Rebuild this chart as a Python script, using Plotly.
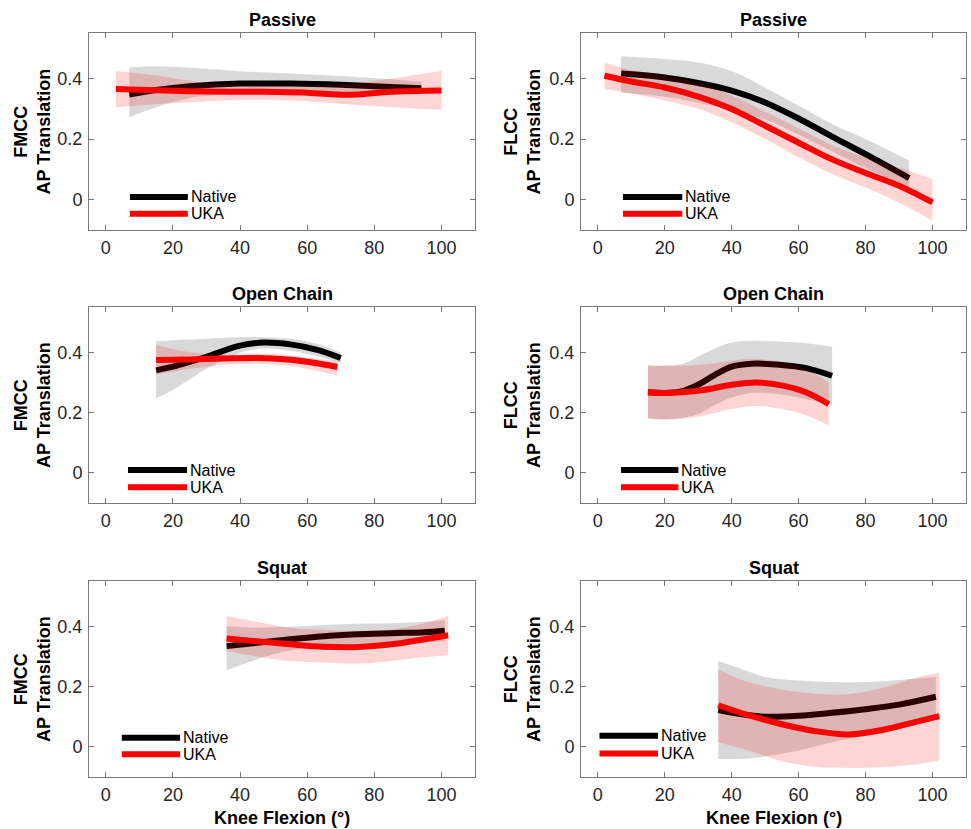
import plotly.graph_objects as go

# ---------------- data ----------------
panel_titles = ["Passive", "Passive", "Open Chain", "Open Chain", "Squat", "Squat"]
panel_ylabels = ["FMCC", "FLCC", "FMCC", "FLCC", "FMCC", "FLCC"]
x_ticks = [0, 20, 40, 60, 80, 100]
y_ticks = [0, 0.2, 0.4]
y_ticktext = ["0", "0.2", "0.4"]
series_names = ["Native", "UKA"]

# Panel 1: FMCC Passive
p1_native_x = [7, 15, 25, 40, 55, 70, 85, 94]
p1_native_mean = [0.347, 0.362, 0.374, 0.383, 0.383, 0.379, 0.372, 0.368]
p1_native_up = [0.436, 0.440, 0.435, 0.424, 0.416, 0.408, 0.397, 0.388]
p1_native_lo = [0.272, 0.305, 0.335, 0.350, 0.355, 0.355, 0.352, 0.350]
p1_uka_x = [3, 15, 30, 45, 60, 72, 85, 100]
p1_uka_mean = [0.365, 0.361, 0.357, 0.356, 0.353, 0.346, 0.356, 0.360]
p1_uka_up = [0.425, 0.410, 0.385, 0.378, 0.378, 0.382, 0.400, 0.425]
p1_uka_lo = [0.305, 0.315, 0.325, 0.330, 0.325, 0.315, 0.305, 0.297]

# Panel 2: FLCC Passive
p2_native_x = [7, 20, 30, 40, 50, 60, 70, 80, 93]
p2_native_mean = [0.416, 0.403, 0.385, 0.360, 0.321, 0.268, 0.208, 0.150, 0.071]
p2_native_up = [0.473, 0.464, 0.453, 0.425, 0.370, 0.310, 0.250, 0.200, 0.129]
p2_native_lo = [0.354, 0.340, 0.320, 0.295, 0.265, 0.215, 0.160, 0.105, 0.040]
p2_uka_x = [2, 10, 20, 30, 40, 50, 60, 70, 80, 90, 100]
p2_uka_mean = [0.409, 0.390, 0.370, 0.340, 0.299, 0.244, 0.188, 0.133, 0.088, 0.046, -0.009]
p2_uka_up = [0.453, 0.428, 0.410, 0.385, 0.345, 0.290, 0.235, 0.180, 0.140, 0.105, 0.068]
p2_uka_lo = [0.365, 0.350, 0.327, 0.300, 0.255, 0.200, 0.140, 0.085, 0.040, -0.010, -0.069]

# Panel 3: FMCC Open Chain
p3_native_x = [15, 20, 25, 30, 40, 47, 55, 63, 70]
p3_native_mean = [0.340, 0.352, 0.368, 0.385, 0.422, 0.432, 0.426, 0.408, 0.381]
p3_native_up = [0.436, 0.440, 0.442, 0.445, 0.450, 0.450, 0.445, 0.428, 0.398]
p3_native_lo = [0.247, 0.275, 0.310, 0.345, 0.398, 0.412, 0.405, 0.387, 0.365]
p3_uka_x = [15, 25, 35, 45, 55, 62, 69]
p3_uka_mean = [0.374, 0.376, 0.379, 0.381, 0.375, 0.365, 0.351]
p3_uka_up = [0.425, 0.400, 0.392, 0.395, 0.390, 0.380, 0.370]
p3_uka_lo = [0.327, 0.345, 0.358, 0.362, 0.355, 0.340, 0.323]

# Panel 4: FLCC Open Chain
p4_native_x = [15, 20, 25, 30, 35, 40, 46, 55, 62, 70]
p4_native_mean = [0.267, 0.265, 0.270, 0.292, 0.325, 0.352, 0.362, 0.358, 0.348, 0.322]
p4_native_up = [0.355, 0.355, 0.360, 0.385, 0.412, 0.432, 0.438, 0.435, 0.430, 0.418]
p4_native_lo = [0.180, 0.178, 0.182, 0.195, 0.225, 0.250, 0.265, 0.260, 0.245, 0.225]
p4_uka_x = [15, 20, 30, 40, 47, 55, 62, 69]
p4_uka_mean = [0.267, 0.265, 0.272, 0.292, 0.300, 0.290, 0.268, 0.228]
p4_uka_up = [0.358, 0.355, 0.358, 0.372, 0.378, 0.368, 0.345, 0.300]
p4_uka_lo = [0.179, 0.176, 0.186, 0.212, 0.222, 0.212, 0.192, 0.157]

# Panel 5: FMCC Squat
p5_native_x = [36, 45, 55, 65, 75, 85, 95, 101]
p5_native_mean = [0.334, 0.345, 0.357, 0.367, 0.373, 0.377, 0.380, 0.385]
p5_native_up = [0.400, 0.395, 0.398, 0.404, 0.408, 0.410, 0.415, 0.420]
p5_native_lo = [0.254, 0.290, 0.320, 0.335, 0.342, 0.345, 0.347, 0.350]
p5_uka_x = [36, 45, 55, 65, 75, 85, 95, 102]
p5_uka_mean = [0.359, 0.350, 0.340, 0.332, 0.331, 0.340, 0.357, 0.370]
p5_uka_up = [0.433, 0.415, 0.395, 0.388, 0.385, 0.390, 0.410, 0.435]
p5_uka_lo = [0.318, 0.300, 0.285, 0.280, 0.276, 0.285, 0.298, 0.304]

# Panel 6: FLCC Squat
p6_native_x = [36, 42, 50, 60, 70, 80, 90, 101]
p6_native_mean = [0.122, 0.110, 0.100, 0.103, 0.113, 0.125, 0.140, 0.166]
p6_native_up = [0.285, 0.262, 0.232, 0.220, 0.215, 0.215, 0.222, 0.232]
p6_native_lo = [-0.040, -0.040, -0.032, -0.012, 0.015, 0.040, 0.065, 0.090]
p6_uka_x = [36, 45, 55, 65, 75, 85, 95, 102]
p6_uka_mean = [0.138, 0.105, 0.075, 0.052, 0.041, 0.056, 0.083, 0.102]
p6_uka_up = [0.256, 0.215, 0.190, 0.176, 0.175, 0.195, 0.230, 0.245]
p6_uka_lo = [0.015, -0.012, -0.048, -0.066, -0.070, -0.068, -0.058, -0.046]

panels = [
    (p1_native_x, p1_native_mean, p1_native_up, p1_native_lo, p1_uka_x, p1_uka_mean, p1_uka_up, p1_uka_lo),
    (p2_native_x, p2_native_mean, p2_native_up, p2_native_lo, p2_uka_x, p2_uka_mean, p2_uka_up, p2_uka_lo),
    (p3_native_x, p3_native_mean, p3_native_up, p3_native_lo, p3_uka_x, p3_uka_mean, p3_uka_up, p3_uka_lo),
    (p4_native_x, p4_native_mean, p4_native_up, p4_native_lo, p4_uka_x, p4_uka_mean, p4_uka_up, p4_uka_lo),
    (p5_native_x, p5_native_mean, p5_native_up, p5_native_lo, p5_uka_x, p5_uka_mean, p5_uka_up, p5_uka_lo),
    (p6_native_x, p6_native_mean, p6_native_up, p6_native_lo, p6_uka_x, p6_uka_mean, p6_uka_up, p6_uka_lo),
]

# ---------------- layout / style ----------------
W, H = 971, 829
FONT = "Liberation Sans, Arial, Helvetica, sans-serif"
AXC = "#7a7a7a"
TXT = "#262626"
col_px = [(89, 475), (581, 966)]
row_px = [(33, 230), (307, 503), (581, 777)]
ytitle_center_px = [32, 522]
legend_pos = [  # (x0, x1, y_native, y_uka) in axis-domain fractions
    (0.106, 0.256, 0.168, 0.082),
    (0.109, 0.263, 0.168, 0.082),
    (0.101, 0.254, 0.168, 0.080),
    (0.104, 0.253, 0.168, 0.080),
    (0.085, 0.236, 0.200, 0.116),
    (0.048, 0.200, 0.210, 0.120),
]
GRAY_FILL = "rgba(128,128,128,0.30)"
PINK_FILL = "rgba(255,0,0,0.17)"
LINE_COLORS = ["#000000", "#ff0000"]
FILLS = [GRAY_FILL, PINK_FILL]

fig = go.Figure()
layout = dict(
    width=W, height=H, margin=dict(l=0, r=0, t=0, b=0),
    paper_bgcolor="white", plot_bgcolor="white", showlegend=False,
    font=dict(family=FONT, color=TXT),
)
annotations = []
shapes = []

for i, pdata in enumerate(panels):
    n = i + 1
    r, c = divmod(i, 2)
    xs = "x" if n == 1 else f"x{n}"
    ys = "y" if n == 1 else f"y{n}"
    groups = [(pdata[0], pdata[1], pdata[2], pdata[3]), (pdata[4], pdata[5], pdata[6], pdata[7])]
    for g, (gx, gm, gu, gl) in enumerate(groups):
        fig.add_trace(go.Scatter(x=gx, y=gu, mode="lines", line=dict(width=0, shape="spline"),
                                 xaxis=xs, yaxis=ys, hoverinfo="skip", showlegend=False))
        fig.add_trace(go.Scatter(x=gx, y=gl, mode="lines", line=dict(width=0, shape="spline"),
                                 fill="tonexty", fillcolor=FILLS[g],
                                 xaxis=xs, yaxis=ys, hoverinfo="skip", showlegend=False))
        fig.add_trace(go.Scatter(x=gx, y=gm, mode="lines", name=series_names[g],
                                 line=dict(width=6, color=LINE_COLORS[g], shape="spline"),
                                 xaxis=xs, yaxis=ys, showlegend=False))

    x0, x1 = col_px[c]
    y0, y1 = row_px[r]
    xkey = "xaxis" if n == 1 else f"xaxis{n}"
    ykey = "yaxis" if n == 1 else f"yaxis{n}"
    layout[xkey] = dict(
        domain=[x0 / W, x1 / W], anchor=ys, range=[-5, 110],
        tickvals=x_ticks, ticks="inside", ticklen=5, tickcolor=AXC,
        showline=True, linecolor=AXC, linewidth=1, mirror="ticks",
        showgrid=False, zeroline=False, ticklabelstandoff=1,
        tickfont=dict(size=18, family=FONT, color=TXT),
    )
    layout[ykey] = dict(
        domain=[1 - y1 / H, 1 - y0 / H], anchor=xs, range=[-0.1, 0.55],
        tickvals=y_ticks, ticktext=y_ticktext, ticks="inside", ticklen=5, tickcolor=AXC,
        showline=True, linecolor=AXC, linewidth=1, mirror="ticks",
        showgrid=False, zeroline=False, ticklabelstandoff=2,
        tickfont=dict(size=18, family=FONT, color=TXT),
    )
    # subplot title
    annotations.append(dict(text=f"<b>{panel_titles[i]}</b>", xref=f"{xs} domain", yref=f"{ys} domain",
                            x=0.5, y=1, xanchor="center", yanchor="bottom", yshift=1, showarrow=False,
                            font=dict(size=18, family=FONT, color="#000")))
    # y title
    annotations.append(dict(text=f"<b>{panel_ylabels[i]}</b><br><b>AP Translation</b>",
                            xref="paper", yref=f"{ys} domain",
                            x=ytitle_center_px[c] / W, y=0.5, xanchor="center", yanchor="middle",
                            textangle=-90, showarrow=False,
                            font=dict(size=18, family=FONT, color="#000")))
    # x title on bottom row
    if r == 2:
        annotations.append(dict(text="<b>Knee Flexion (°)</b>", xref=f"{xs} domain", yref="paper",
                                x=0.5, y=1 - 818 / H, xanchor="center", yanchor="middle", showarrow=False,
                                font=dict(size=18, family=FONT, color="#000")))
    # legend (drawn per panel)
    lx0, lx1, ly_n, ly_u = legend_pos[i]
    for g, ly in enumerate([ly_n, ly_u]):
        shapes.append(dict(type="line", xref=f"{xs} domain", yref=f"{ys} domain",
                           x0=lx0, x1=lx1, y0=ly, y1=ly,
                           line=dict(color=LINE_COLORS[g], width=6)))
        annotations.append(dict(text=series_names[g], xref=f"{xs} domain", yref=f"{ys} domain",
                                x=lx1, y=ly, xanchor="left", yanchor="middle", xshift=1,
                                showarrow=False, font=dict(size=16, family=FONT, color="#000")))

layout["annotations"] = annotations
layout["shapes"] = shapes
fig.update_layout(**layout)
fig.write_html("out.html")
